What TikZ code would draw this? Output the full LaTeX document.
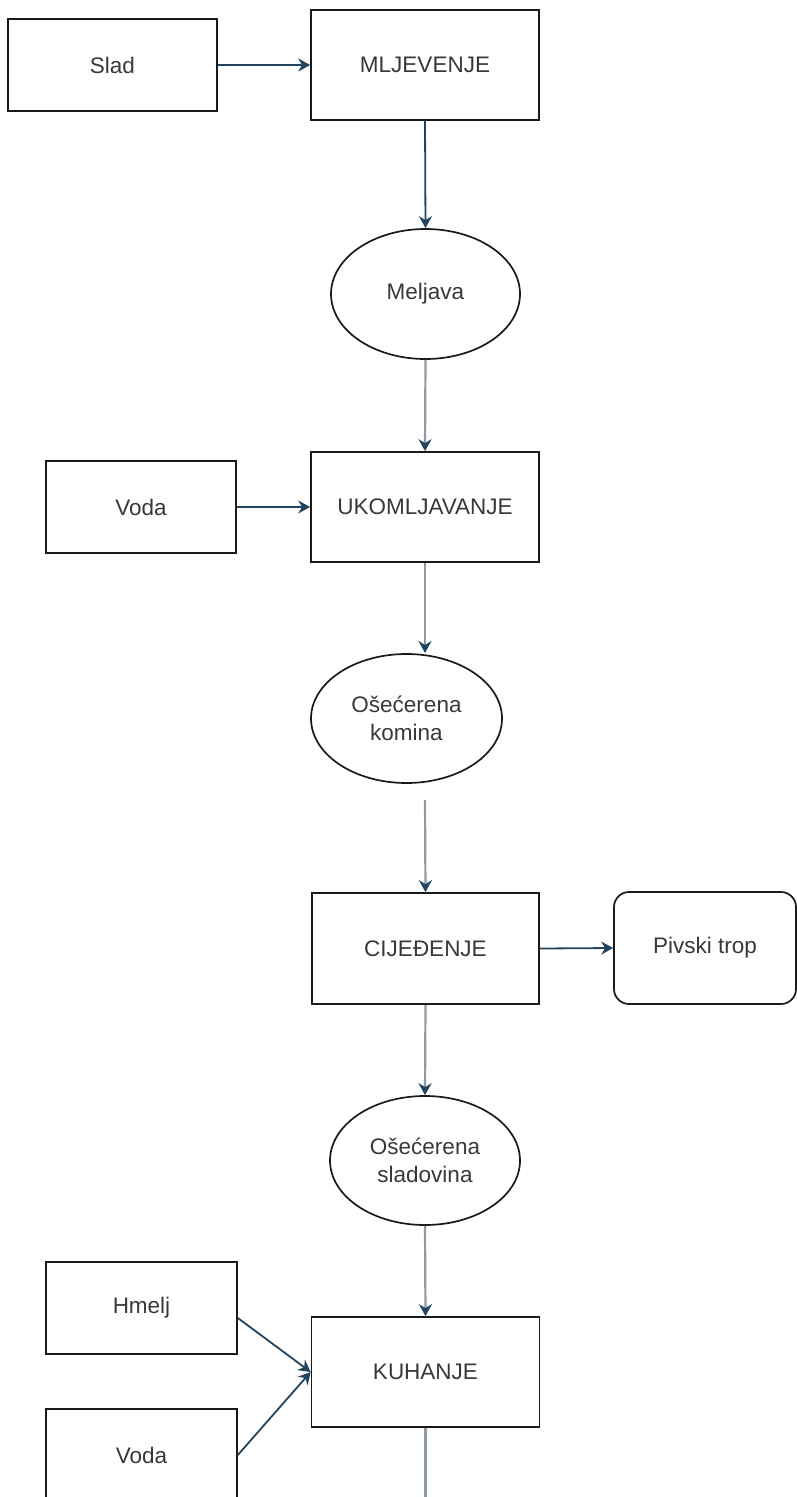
\documentclass[tikz,border=0pt]{standalone}
\usepackage{fontspec}
\setmainfont{Liberation Sans}
\usetikzlibrary{arrows.meta,shapes.geometric,calc}
\definecolor{edgedark}{HTML}{23445D}
\definecolor{edgelight}{HTML}{8C9BA6}
\definecolor{txt}{HTML}{383838}
\definecolor{bord}{HTML}{1A1A1A}
\tikzset{
  base/.style={draw=bord, line width=1.7pt, text=txt, align=center, inner sep=0pt,
    font=\fontsize{22.5}{28}\selectfont},
  procbox/.style={base, rectangle, minimum width=228pt, minimum height=110pt},
  inbox/.style={base, rectangle, minimum width=190pt, minimum height=92pt},
  prodell/.style={base, ellipse, minimum width=190pt, minimum height=130pt},
  outbox/.style={base, rectangle, rounded corners=15pt, minimum width=182pt, minimum height=112pt},
  darkarrow/.style={draw=edgedark, line width=1.8pt, -{Stealth[length=12pt,width=13pt,inset=4pt,color=edgedark]}},
  lightarrow/.style={draw=edgelight, line width=2.2pt, -{Stealth[length=12pt,width=13pt,inset=4pt,color=edgedark]}},
  lightline/.style={draw=edgelight, line width=2.2pt}
}
\begin{document}
\begin{tikzpicture}[x=1pt,y=-1pt]
\useasboundingbox (0,0) rectangle (797,1497);
% nodes
\node[inbox, minimum width=209pt] (slad) at (112.5,65) {Slad};
\node[procbox] (mlj) at (425,65) {MLJEVENJE};
\node[prodell, minimum width=189pt] (meljava) at (425.5,294) {Meljava};
\node[procbox] (ukom) at (425,507) {UKOMLJAVANJE};
\node[inbox] (voda1) at (141,507) {Voda};
\node[prodell, minimum width=191pt, minimum height=129pt] (komina) at (406.5,718.5) {Ošećerena\\komina};
\node[procbox, minimum width=227pt, minimum height=111pt] (cij) at (425.5,948.5) {CIJEĐENJE};
\node[outbox] (trop) at (705,948) {Pivski trop};
\node[prodell, minimum height=129pt] (slado) at (425,1160.5) {Ošećerena\\sladovina};
\node[procbox] (kuh) at (425.5,1372) {KUHANJE};
\node[inbox, minimum width=191pt] (hmelj) at (141.5,1308) {Hmelj};
\node[inbox, minimum width=191pt] (voda2) at (141.5,1455) {Voda};
% free ends
\coordinate (kominaTop) at (425,653);
\coordinate (kominaOut) at (425,800);
\coordinate (bottomEnd) at (425.5,1500);
% connectors
\draw[darkarrow] (slad.east) -- (mlj.west);
\draw[darkarrow] (mlj.south) -- (meljava.north);
\draw[lightarrow] (meljava.south) -- (ukom.north);
\draw[darkarrow] (voda1.east) -- (ukom.west);
\draw[lightarrow] (ukom.south) -- (kominaTop);
\draw[lightarrow] (kominaOut) -- (cij.north);
\draw[darkarrow] (cij.east) -- (trop.west);
\draw[lightarrow] (cij.south) -- (slado.north);
\draw[lightarrow] (slado.south) -- (kuh.north);
\draw[darkarrow] ([yshift=-10pt]hmelj.east) -- (kuh.west);
\draw[darkarrow] (voda2.east) -- (kuh.west);
\draw[lightline] (kuh.south) -- (bottomEnd);
\end{tikzpicture}
\end{document}
